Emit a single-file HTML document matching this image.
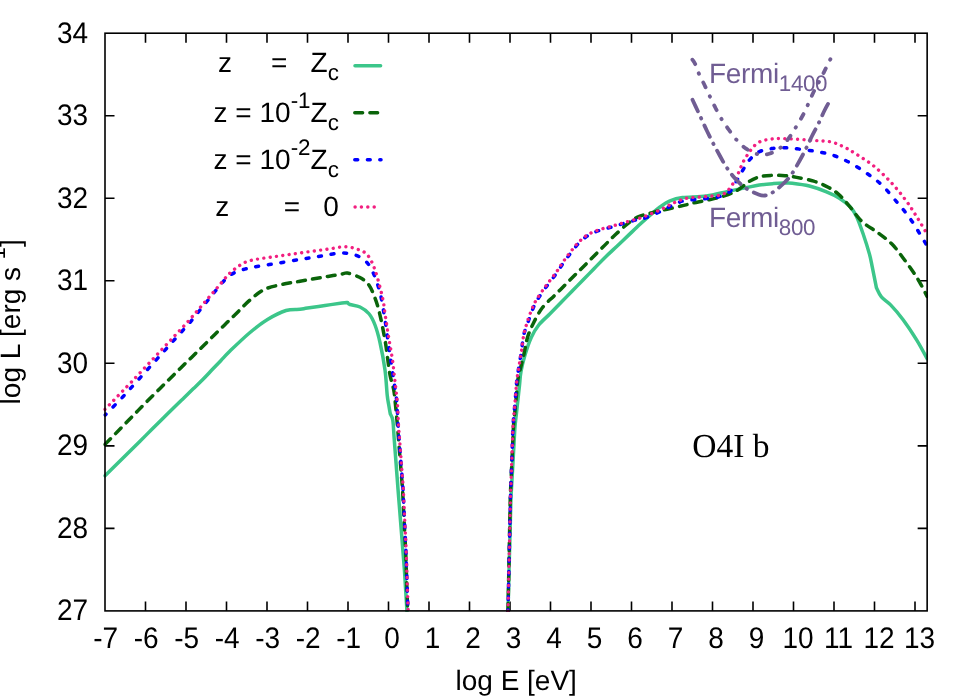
<!DOCTYPE html>
<html><head><meta charset="utf-8"><title>plot</title>
<style>
html,body{margin:0;padding:0;background:#fff;}
body{width:969px;height:700px;overflow:hidden;position:relative;font-family:"Liberation Sans",sans-serif;}
</style></head><body>
<svg width="969" height="700" viewBox="0 0 969 700" style="position:absolute;left:0;top:0;display:block;will-change:transform">
<rect x="0" y="0" width="969" height="700" fill="#ffffff"/>
<defs><clipPath id="pc"><rect x="103.20" y="33.20" width="824.85" height="578.90"/></clipPath></defs>
<path d="M145.50 610.90 V601.40 M145.50 33.20 V42.70 M186.00 610.90 V601.40 M186.00 33.20 V42.70 M226.50 610.90 V601.40 M226.50 33.20 V42.70 M267.00 610.90 V601.40 M267.00 33.20 V42.70 M307.50 610.90 V601.40 M307.50 33.20 V42.70 M348.00 610.90 V601.40 M348.00 33.20 V42.70 M388.50 610.90 V601.40 M388.50 33.20 V42.70 M429.00 610.90 V601.40 M429.00 33.20 V42.70 M469.50 610.90 V601.40 M469.50 33.20 V42.70 M510.00 610.90 V601.40 M510.00 33.20 V42.70 M550.50 610.90 V601.40 M550.50 33.20 V42.70 M591.00 610.90 V601.40 M591.00 33.20 V42.70 M631.50 610.90 V601.40 M631.50 33.20 V42.70 M672.00 610.90 V601.40 M672.00 33.20 V42.70 M712.50 610.90 V601.40 M712.50 33.20 V42.70 M753.00 610.90 V601.40 M753.00 33.20 V42.70 M793.50 610.90 V601.40 M793.50 33.20 V42.70 M834.00 610.90 V601.40 M834.00 33.20 V42.70 M874.50 610.90 V601.40 M874.50 33.20 V42.70 M915.00 610.90 V601.40 M915.00 33.20 V42.70 M105.00 528.37 H114.50 M927.15 528.37 H917.65 M105.00 445.84 H114.50 M927.15 445.84 H917.65 M105.00 363.31 H114.50 M927.15 363.31 H917.65 M105.00 280.79 H114.50 M927.15 280.79 H917.65 M105.00 198.26 H114.50 M927.15 198.26 H917.65 M105.00 115.73 H114.50 M927.15 115.73 H917.65" stroke="#000" stroke-width="1.6" fill="none"/>
<g clip-path="url(#pc)" fill="none" stroke-linejoin="round">
<path d="M105.00 475.80 C106.94 473.88 112.78 468.10 116.67 464.25 C120.56 460.40 124.44 456.55 128.33 452.70 C132.22 448.85 136.11 445.00 140.00 441.15 C143.89 437.30 147.78 433.45 151.67 429.60 C155.56 425.75 159.44 421.90 163.33 418.05 C167.22 414.20 171.54 409.90 175.00 406.50 C178.46 403.10 181.07 400.61 184.10 397.67 C187.13 394.72 190.17 391.78 193.20 388.83 C196.23 385.89 199.24 383.08 202.30 380.00 C205.36 376.92 208.46 373.56 211.53 370.33 C214.61 367.11 217.69 363.89 220.77 360.67 C223.84 357.44 225.13 355.69 230.00 351.00 C234.87 346.31 243.75 337.75 250.00 332.50 C256.25 327.25 261.50 323.17 267.50 319.50 C273.50 315.83 280.58 312.20 286.00 310.50 C291.42 308.80 296.42 309.72 300.00 309.30 C303.58 308.88 303.33 308.63 307.50 308.00 C311.67 307.37 319.25 306.33 325.00 305.50 C330.75 304.67 338.25 303.50 342.00 303.00 C345.75 302.50 346.58 302.58 347.50 302.50 M347.50 302.50 C347.92 302.83 347.92 303.75 350.00 304.50 C352.08 305.25 356.83 305.46 360.00 307.00 C363.17 308.54 366.50 310.75 369.00 313.75 C371.50 316.75 373.17 320.21 375.00 325.00 C376.83 329.79 378.33 335.00 380.00 342.50 C381.67 350.00 383.80 361.25 385.00 370.00 C386.20 378.75 386.57 389.17 387.20 395.00 C387.82 400.83 388.23 401.85 388.75 405.00 C389.27 408.15 390.04 412.42 390.30 413.90 M390.30 413.90 C390.72 414.95 392.17 416.28 392.80 420.20 C393.43 424.12 393.67 431.67 394.10 437.40 C394.53 443.13 394.97 448.87 395.40 454.60 C395.83 460.33 396.27 466.07 396.70 471.80 C397.13 477.53 397.57 483.40 398.00 489.00 C398.43 494.60 398.87 499.93 399.30 505.40 C399.73 510.87 400.17 516.33 400.60 521.80 C401.03 527.27 401.47 532.73 401.90 538.20 C402.33 543.67 402.77 549.13 403.20 554.60 C403.63 560.07 404.14 565.99 404.50 571.00 C404.86 576.01 405.06 580.11 405.33 584.67 C405.61 589.22 405.89 593.78 406.17 598.33 C406.44 602.89 406.86 609.72 407.00 612.00 M508.00 611.00 C508.07 608.17 508.29 599.67 508.43 594.00 C508.58 588.33 508.72 582.67 508.87 577.00 C509.01 571.33 509.16 565.46 509.30 560.00 C509.44 554.54 509.58 549.50 509.73 544.25 C509.87 539.00 510.01 533.75 510.15 528.50 C510.29 523.25 510.43 518.00 510.57 512.75 C510.72 507.50 510.76 502.56 511.00 497.00 C511.24 491.44 511.67 485.25 512.00 479.38 C512.33 473.50 512.67 467.62 513.00 461.75 C513.33 455.88 513.67 450.00 514.00 444.12 C514.33 438.25 514.58 431.73 515.00 426.50 C515.42 421.27 516.00 417.33 516.50 412.75 C517.00 408.17 517.50 403.58 518.00 399.00 C518.50 394.42 519.00 389.83 519.50 385.25 C520.00 380.67 520.08 376.54 521.00 371.50 C521.92 366.46 523.29 360.67 525.00 355.00 C526.71 349.33 528.96 342.50 531.25 337.50 C533.54 332.50 535.62 328.96 538.75 325.00 C541.88 321.04 546.29 317.50 550.00 313.75 C553.71 310.00 557.33 306.25 561.00 302.50 C564.67 298.75 568.33 295.00 572.00 291.25 C575.67 287.50 579.33 283.75 583.00 280.00 C586.67 276.25 590.33 272.50 594.00 268.75 C597.67 265.00 601.22 261.22 605.00 257.50 C608.78 253.78 612.78 250.12 616.67 246.43 C620.56 242.74 624.44 239.06 628.33 235.37 C632.22 231.68 636.31 227.71 640.00 224.30 C643.69 220.89 647.17 217.78 650.50 214.90 C653.83 212.02 656.75 209.33 660.00 207.00 C663.25 204.67 666.25 202.47 670.00 200.90 C673.75 199.33 676.43 198.40 682.50 197.60 C688.57 196.80 698.83 197.13 706.40 196.10 C713.97 195.07 721.47 192.77 727.90 191.40 C734.33 190.03 739.77 188.97 745.00 187.90 C750.23 186.83 754.53 185.72 759.30 185.00 C764.07 184.28 769.32 183.92 773.60 183.60 C777.88 183.28 781.88 183.17 785.00 183.10 C788.12 183.03 788.23 182.72 792.30 183.20 C796.37 183.68 803.70 184.57 809.40 186.00 C815.10 187.43 821.50 189.77 826.50 191.80 C831.50 193.83 835.47 195.70 839.40 198.20 C843.33 200.70 847.25 203.77 850.10 206.80 C852.95 209.83 854.35 211.95 856.50 216.40 C858.65 220.85 860.85 227.25 863.00 233.50 C865.15 239.75 867.85 248.30 869.40 253.90 C870.95 259.50 871.13 261.47 872.30 267.10 C873.47 272.73 875.72 284.27 876.40 287.70 M876.40 287.70 C877.23 289.23 879.03 294.03 881.40 296.90 C883.77 299.77 886.98 301.10 890.60 304.90 C894.22 308.70 898.72 313.80 903.10 319.70 C907.48 325.60 912.90 333.82 916.90 340.30 C920.90 346.78 925.40 355.55 927.10 358.60" stroke="#3cc68a" stroke-width="3.5" stroke-linecap="round"/>
<path d="M105.00 444.40 C106.67 442.70 111.67 437.58 115.00 434.17 C118.33 430.77 121.67 427.36 125.00 423.95 C128.33 420.54 131.67 417.13 135.00 413.73 C138.33 410.32 141.38 407.16 145.00 403.50 C148.62 399.84 152.83 395.67 156.75 391.75 C160.67 387.83 164.60 383.86 168.50 380.00 C172.40 376.14 176.26 372.38 180.14 368.57 C184.02 364.76 187.90 360.95 191.79 357.14 C195.67 353.33 199.55 349.52 203.43 345.71 C207.31 341.90 211.19 338.10 215.07 334.29 C218.95 330.48 222.83 326.67 226.71 322.86 C230.60 319.05 234.48 315.24 238.36 311.43 C242.24 307.62 245.56 303.70 250.00 300.00 C254.44 296.30 259.17 291.90 265.00 289.20 C270.83 286.50 279.17 285.12 285.00 283.80 C290.83 282.48 295.17 282.08 300.00 281.25 C304.83 280.42 309.33 279.64 314.00 278.83 C318.67 278.03 323.33 277.22 328.00 276.42 C332.67 275.61 338.75 274.57 342.00 274.00 C345.25 273.43 344.60 272.45 347.50 273.00 C350.40 273.55 355.95 275.47 359.40 277.30 C362.85 279.13 365.73 280.88 368.20 284.00 C370.67 287.12 372.33 291.25 374.20 296.00 C376.07 300.75 377.60 305.17 379.40 312.50 C381.20 319.83 383.65 332.50 385.00 340.00 C386.35 347.50 386.67 351.67 387.50 357.50 C388.33 363.33 388.96 369.58 390.00 375.00 C391.04 380.42 392.83 385.00 393.75 390.00 C394.67 395.00 394.88 398.92 395.50 405.00 C396.12 411.08 396.96 420.31 397.50 426.50 C398.04 432.69 398.33 436.92 398.75 442.12 C399.17 447.33 399.58 452.54 400.00 457.75 C400.42 462.96 400.83 468.17 401.25 473.38 C401.67 478.58 402.16 483.77 402.50 489.00 C402.84 494.23 403.03 499.50 403.30 504.75 C403.57 510.00 403.83 515.25 404.10 520.50 C404.37 525.75 404.63 531.00 404.90 536.25 C405.17 541.50 405.48 546.88 405.70 552.00 C405.92 557.12 406.03 562.00 406.20 567.00 C406.37 572.00 406.53 577.00 406.70 582.00 C406.87 587.00 407.03 592.00 407.20 597.00 C407.37 602.00 407.62 609.50 407.70 612.00 M508.00 611.00 C508.05 608.29 508.22 600.14 508.33 594.71 C508.44 589.29 508.55 583.86 508.66 578.43 C508.77 573.00 508.88 567.57 508.99 562.14 C509.10 556.71 509.20 551.29 509.31 545.86 C509.42 540.43 509.53 535.00 509.64 529.57 C509.75 524.14 509.86 518.71 509.97 513.29 C510.08 507.86 510.11 502.67 510.30 497.00 C510.49 491.33 510.83 485.17 511.10 479.25 C511.37 473.33 511.63 467.42 511.90 461.50 C512.17 455.58 512.43 449.67 512.70 443.75 C512.97 437.83 513.12 431.57 513.50 426.00 C513.88 420.43 514.50 415.56 515.00 410.33 C515.50 405.11 516.00 399.89 516.50 394.67 C517.00 389.44 516.79 385.61 518.00 379.00 C519.21 372.39 522.17 361.92 523.75 355.00 C525.33 348.08 525.83 342.92 527.50 337.50 C529.17 332.08 531.25 327.50 533.75 322.50 C536.25 317.50 539.03 312.01 542.50 307.50 C545.97 302.99 550.56 299.44 554.58 295.42 C558.61 291.39 562.64 287.36 566.67 283.33 C570.69 279.31 574.72 275.28 578.75 271.25 C582.78 267.22 586.81 263.19 590.83 259.17 C594.86 255.14 598.89 251.11 602.92 247.08 C606.94 243.06 610.49 239.21 615.00 235.00 C619.51 230.79 625.83 224.93 630.00 221.80 C634.17 218.67 636.50 217.67 640.00 216.20 C643.50 214.73 647.67 213.97 651.00 213.00 C654.33 212.03 657.33 211.02 660.00 210.40 C662.67 209.78 663.50 210.03 667.00 209.30 C670.50 208.57 677.50 206.82 681.00 206.00 C684.50 205.18 685.90 204.92 688.00 204.40 C690.10 203.88 690.05 203.68 693.60 202.90 C697.15 202.12 704.07 200.90 709.30 199.70 C714.53 198.50 720.23 197.32 725.00 195.70 C729.77 194.08 733.85 192.38 737.90 190.00 C741.95 187.62 745.73 183.58 749.30 181.40 C752.87 179.22 755.73 177.90 759.30 176.90 C762.87 175.90 766.42 175.60 770.70 175.40 C774.98 175.20 780.68 175.37 785.00 175.70 C789.32 176.03 791.82 176.50 796.60 177.40 C801.38 178.30 808.35 179.42 813.70 181.10 C819.05 182.78 824.42 185.18 828.70 187.50 C832.98 189.82 835.83 191.75 839.40 195.00 C842.97 198.25 846.33 202.57 850.10 207.00 C853.87 211.43 857.35 217.30 862.00 221.60 C866.65 225.90 873.05 229.10 878.00 232.80 C882.95 236.50 887.52 239.60 891.70 243.80 C895.88 248.00 899.28 252.97 903.10 258.00 C906.92 263.03 911.55 269.43 914.60 274.00 C917.65 278.57 919.32 281.67 921.40 285.40 C923.48 289.13 926.15 294.57 927.10 296.40" stroke="#0a640a" stroke-width="3.5" stroke-linecap="round" stroke-dasharray="7.8 7.3"/>
<path d="M105.20 415.00 C108.23 411.88 118.54 401.44 123.40 396.30 C128.26 391.16 130.70 388.20 134.35 384.15 C138.00 380.10 141.65 376.05 145.30 372.00 C148.95 367.95 152.60 363.90 156.25 359.85 C159.90 355.80 163.55 351.75 167.20 347.70 C170.85 343.65 174.50 339.60 178.15 335.55 C181.80 331.50 185.49 327.62 189.10 323.40 C192.71 319.18 196.23 314.62 199.80 310.23 C203.37 305.84 206.93 301.46 210.50 297.07 C214.07 292.68 217.90 287.56 221.20 283.90 C224.50 280.24 226.88 277.42 230.30 275.10 C233.72 272.78 237.77 271.33 241.70 270.00 C245.63 268.67 249.31 268.01 253.90 267.10 C258.49 266.19 264.14 265.41 269.27 264.57 C274.39 263.72 279.51 262.88 284.63 262.03 C289.76 261.19 295.22 260.28 300.00 259.50 C304.78 258.72 308.89 258.06 313.33 257.33 C317.78 256.61 322.22 255.89 326.67 255.17 C331.11 254.44 335.69 253.15 340.00 253.00 C344.31 252.85 348.62 253.20 352.50 254.25 C356.38 255.30 360.12 256.78 363.30 259.30 C366.48 261.82 368.82 263.87 371.60 269.40 C374.38 274.93 377.77 284.07 380.00 292.50 C382.23 300.93 383.75 312.50 385.00 320.00 C386.25 327.50 386.67 331.67 387.50 337.50 C388.33 343.33 389.25 349.86 390.00 355.00 C390.75 360.14 391.33 363.89 392.00 368.33 C392.67 372.78 393.33 377.22 394.00 381.67 C394.67 386.11 395.50 391.11 396.00 395.00 C396.50 398.89 396.63 399.75 397.00 405.00 C397.37 410.25 397.80 420.31 398.20 426.50 C398.60 432.69 399.00 436.92 399.40 442.12 C399.80 447.33 400.20 452.54 400.60 457.75 C401.00 462.96 401.40 468.17 401.80 473.38 C402.20 478.58 402.68 483.77 403.00 489.00 C403.32 494.23 403.50 499.50 403.75 504.75 C404.00 510.00 404.25 515.25 404.50 520.50 C404.75 525.75 405.00 531.00 405.25 536.25 C405.50 541.50 405.79 546.88 406.00 552.00 C406.21 557.12 406.33 562.00 406.50 567.00 C406.67 572.00 406.83 577.00 407.00 582.00 C407.17 587.00 407.33 592.00 407.50 597.00 C407.67 602.00 407.92 609.50 408.00 612.00 M508.00 611.00 C508.06 608.29 508.24 600.14 508.36 594.71 C508.48 589.29 508.60 583.86 508.71 578.43 C508.83 573.00 508.95 567.57 509.07 562.14 C509.19 556.71 509.31 551.29 509.43 545.86 C509.55 540.43 509.67 535.00 509.79 529.57 C509.90 524.14 510.02 518.71 510.14 513.29 C510.26 507.86 510.34 502.67 510.50 497.00 C510.66 491.33 510.92 485.17 511.12 479.25 C511.33 473.33 511.54 467.42 511.75 461.50 C511.96 455.58 512.17 449.67 512.38 443.75 C512.58 437.83 512.67 431.57 513.00 426.00 C513.33 420.43 513.89 415.56 514.33 410.33 C514.78 405.11 515.22 399.89 515.67 394.67 C516.11 389.44 516.07 386.03 517.00 379.00 C517.93 371.97 520.12 359.83 521.25 352.50 C522.38 345.17 522.61 340.11 523.75 335.00 C524.89 329.89 526.59 326.18 528.10 321.85 C529.61 317.52 531.32 312.57 532.80 309.00 C534.28 305.43 535.15 303.55 537.00 300.40 C538.85 297.25 541.90 292.97 543.90 290.10 C545.90 287.23 546.85 286.07 549.00 283.20 C551.15 280.33 554.37 276.33 556.80 272.90 C559.23 269.47 561.18 266.03 563.60 262.60 C566.02 259.17 568.72 255.58 571.30 252.30 C573.88 249.02 576.23 245.75 579.10 242.90 C581.97 240.05 585.08 237.28 588.50 235.20 C591.92 233.12 595.73 231.77 599.60 230.40 C603.47 229.03 607.68 228.15 611.70 227.00 C615.72 225.85 619.70 224.65 623.70 223.50 C627.70 222.35 632.52 220.88 635.70 220.10 C638.88 219.32 638.75 220.20 642.80 218.80 C646.85 217.40 655.30 213.85 660.00 211.70 C664.70 209.55 668.08 207.35 671.00 205.90 C673.92 204.45 675.45 203.83 677.50 203.00 C679.55 202.17 680.62 201.45 683.30 200.90 C685.98 200.35 689.75 200.08 693.60 199.70 C697.45 199.32 702.23 199.07 706.40 198.60 C710.57 198.13 714.67 198.10 718.60 196.90 C722.53 195.70 726.92 194.22 730.00 191.40 C733.08 188.58 734.95 183.57 737.10 180.00 C739.25 176.43 740.75 173.45 742.90 170.00 C745.05 166.55 747.27 162.35 750.00 159.30 C752.73 156.25 755.73 153.48 759.30 151.70 C762.87 149.92 766.98 149.25 771.40 148.60 C775.82 147.95 780.53 147.63 785.80 147.80 C791.07 147.97 797.28 148.88 803.00 149.60 C808.72 150.32 814.75 151.03 820.10 152.10 C825.45 153.17 830.10 154.22 835.10 156.00 C840.10 157.78 844.75 159.87 850.10 162.80 C855.45 165.73 861.85 169.85 867.20 173.60 C872.55 177.35 877.20 180.48 882.20 185.30 C887.20 190.12 892.55 196.97 897.20 202.50 C901.85 208.03 905.82 212.43 910.10 218.50 C914.38 224.57 920.07 234.32 922.90 238.90 C925.73 243.48 926.40 244.82 927.10 246.00" stroke="#0000ff" stroke-width="3.5" stroke-linecap="round" stroke-dasharray="2.9 9.82" stroke-dashoffset="1.45"/>
<path d="M104.90 409.40 C106.39 407.86 110.86 403.24 113.83 400.17 C116.81 397.09 119.79 394.01 122.77 390.93 C125.74 387.86 128.34 385.24 131.70 381.70 C135.06 378.16 139.19 373.70 142.94 369.70 C146.69 365.70 150.43 361.70 154.18 357.70 C157.93 353.70 161.67 349.70 165.42 345.70 C169.17 341.70 172.91 337.70 176.66 333.70 C180.41 329.70 184.29 325.71 187.90 321.70 C191.51 317.69 194.85 313.65 198.32 309.62 C201.80 305.60 205.28 301.57 208.75 297.55 C212.22 293.52 215.70 289.50 219.18 285.47 C222.65 281.45 226.18 276.75 229.60 273.40 C233.02 270.05 237.12 267.25 239.70 265.40 C242.28 263.55 243.17 263.15 245.10 262.30 C247.03 261.45 249.25 260.83 251.30 260.30 C253.35 259.77 254.02 259.64 257.40 259.10 C260.78 258.56 266.87 257.74 271.60 257.07 C276.33 256.39 281.07 255.71 285.80 255.03 C290.53 254.36 295.13 253.69 300.00 253.00 C304.87 252.31 310.00 251.61 315.00 250.92 C320.00 250.22 325.00 249.53 330.00 248.83 C335.00 248.14 340.42 246.68 345.00 246.75 C349.58 246.82 353.75 247.88 357.50 249.25 C361.25 250.62 364.58 251.54 367.50 255.00 C370.42 258.46 372.50 262.92 375.00 270.00 C377.50 277.08 380.83 290.21 382.50 297.50 C384.17 304.79 384.17 308.33 385.00 313.75 C385.83 319.17 386.67 324.79 387.50 330.00 C388.33 335.21 389.17 340.00 390.00 345.00 C390.83 350.00 391.79 355.00 392.50 360.00 C393.21 365.00 393.67 370.00 394.25 375.00 C394.83 380.00 395.46 385.00 396.00 390.00 C396.54 395.00 397.07 398.92 397.50 405.00 C397.93 411.08 398.22 420.31 398.60 426.50 C398.98 432.69 399.38 436.92 399.78 442.12 C400.17 447.33 400.56 452.54 400.95 457.75 C401.34 462.96 401.73 468.17 402.12 473.38 C402.52 478.58 402.98 483.77 403.30 489.00 C403.62 494.23 403.78 499.50 404.02 504.75 C404.27 510.00 404.51 515.25 404.75 520.50 C404.99 525.75 405.23 531.00 405.48 536.25 C405.72 541.50 406.00 546.88 406.20 552.00 C406.40 557.12 406.53 562.00 406.70 567.00 C406.87 572.00 407.03 577.00 407.20 582.00 C407.37 587.00 407.53 592.00 407.70 597.00 C407.87 602.00 408.12 609.50 408.20 612.00 M508.00 611.00 C508.06 608.29 508.24 600.14 508.36 594.71 C508.48 589.29 508.60 583.86 508.71 578.43 C508.83 573.00 508.95 567.57 509.07 562.14 C509.19 556.71 509.31 551.29 509.43 545.86 C509.55 540.43 509.67 535.00 509.79 529.57 C509.90 524.14 510.02 518.71 510.14 513.29 C510.26 507.86 510.34 502.67 510.50 497.00 C510.66 491.33 510.92 485.17 511.12 479.25 C511.33 473.33 511.54 467.42 511.75 461.50 C511.96 455.58 512.17 449.67 512.38 443.75 C512.58 437.83 512.67 431.57 513.00 426.00 C513.33 420.43 513.89 415.56 514.33 410.33 C514.78 405.11 515.22 399.89 515.67 394.67 C516.11 389.44 516.07 386.03 517.00 379.00 C517.93 371.97 520.12 359.83 521.25 352.50 C522.38 345.17 522.71 340.21 523.75 335.00 C524.79 329.79 526.09 325.68 527.50 321.25 C528.91 316.82 530.72 311.97 532.20 308.40 C533.68 304.82 534.55 302.95 536.40 299.80 C538.25 296.65 541.30 292.37 543.30 289.50 C545.30 286.63 546.25 285.47 548.40 282.60 C550.55 279.73 553.77 275.73 556.20 272.30 C558.63 268.87 560.58 265.43 563.00 262.00 C565.42 258.57 568.12 254.98 570.70 251.70 C573.28 248.42 575.63 245.15 578.50 242.30 C581.37 239.45 584.48 236.68 587.90 234.60 C591.32 232.52 595.13 231.17 599.00 229.80 C602.87 228.43 607.08 227.55 611.10 226.40 C615.12 225.25 619.10 224.05 623.10 222.90 C627.10 221.75 631.82 220.47 635.10 219.50 C638.38 218.53 638.65 218.68 642.80 217.10 C646.95 215.52 655.30 212.15 660.00 210.00 C664.70 207.85 668.08 205.65 671.00 204.20 C673.92 202.75 675.45 202.13 677.50 201.30 C679.55 200.47 681.33 199.82 683.30 199.20 C685.27 198.58 687.23 197.92 689.30 197.60 C691.37 197.28 693.57 197.43 695.70 197.30 C697.83 197.17 699.95 196.97 702.10 196.80 C704.25 196.63 706.45 196.48 708.60 196.30 C710.75 196.12 712.87 195.92 715.00 195.70 C717.13 195.48 719.50 195.63 721.40 195.00 C723.30 194.37 724.85 193.22 726.40 191.90 C727.95 190.58 729.38 188.85 730.70 187.10 C732.02 185.35 733.23 183.25 734.30 181.40 C735.37 179.55 736.20 177.90 737.10 176.00 C738.00 174.10 738.87 171.95 739.70 170.00 C740.53 168.05 741.22 166.20 742.10 164.30 C742.98 162.40 743.92 160.43 745.00 158.60 C746.08 156.77 747.42 155.02 748.60 153.30 C749.78 151.58 750.80 149.85 752.10 148.30 C753.40 146.75 754.73 145.27 756.40 144.00 C758.07 142.73 760.12 141.43 762.10 140.70 C764.08 139.97 766.20 139.95 768.30 139.60 C770.40 139.25 772.58 138.77 774.70 138.60 C776.82 138.43 778.07 138.55 781.00 138.60 C783.93 138.65 786.85 138.60 792.30 138.90 C797.75 139.20 807.28 139.90 813.70 140.40 C820.12 140.90 825.80 140.83 830.80 141.90 C835.80 142.97 839.42 144.73 843.70 146.80 C847.98 148.87 851.50 151.10 856.50 154.30 C861.50 157.50 867.98 161.37 873.70 166.00 C879.42 170.63 885.45 176.38 890.80 182.10 C896.15 187.82 901.52 194.58 905.80 200.30 C910.08 206.02 913.10 211.03 916.50 216.40 C919.90 221.77 924.58 229.82 926.20 232.50" stroke="#f21f80" stroke-width="3.4" stroke-linecap="round" stroke-dasharray="0.01 6.36"/>
<path d="M692.50 99.70 C693.42 101.67 696.58 108.45 698.00 111.50 C699.42 114.55 699.50 114.75 701.00 118.00 C702.50 121.25 704.95 126.73 707.00 131.00 C709.05 135.27 711.13 139.43 713.30 143.60 C715.47 147.77 717.72 151.93 720.00 156.00 C722.28 160.07 724.42 164.17 727.00 168.00 C729.58 171.83 732.33 175.62 735.50 179.00 C738.67 182.38 742.17 185.72 746.00 188.30 C749.83 190.88 755.33 193.30 758.50 194.50 C761.67 195.70 762.73 195.78 765.00 195.50 C767.27 195.22 769.10 194.72 772.10 192.80 C775.10 190.88 779.72 187.13 783.00 184.00 C786.28 180.87 788.97 178.00 791.80 174.00 C794.63 170.00 797.63 164.23 800.00 160.00 C802.37 155.77 804.00 152.60 806.00 148.60 C808.00 144.60 809.92 140.18 812.00 136.00 C814.08 131.82 816.42 127.75 818.50 123.50 C820.58 119.25 822.42 114.65 824.50 110.50 C826.58 106.35 829.92 100.58 831.00 98.60" stroke="#705d93" stroke-width="3.8" stroke-linecap="round" stroke-dasharray="12.7 7.55 0.5 7.55"/>
<path d="M692.40 59.70 C692.88 60.47 694.22 61.97 695.30 64.30 C696.38 66.63 697.37 70.25 698.90 73.70 C700.43 77.15 702.63 81.13 704.50 85.00 C706.37 88.87 708.27 93.07 710.10 96.90 C711.93 100.73 713.55 104.23 715.50 108.00 C717.45 111.77 719.55 115.83 721.80 119.50 C724.05 123.17 726.52 126.58 729.00 130.00 C731.48 133.42 733.87 136.90 736.70 140.00 C739.53 143.10 742.47 146.22 746.00 148.60 C749.53 150.98 753.90 153.48 757.90 154.30 C761.90 155.12 766.12 154.72 770.00 153.50 C773.88 152.28 777.87 149.83 781.20 147.00 C784.53 144.17 787.48 139.92 790.00 136.50 C792.52 133.08 794.13 130.08 796.30 126.50 C798.47 122.92 801.02 118.73 803.00 115.00 C804.98 111.27 806.43 107.93 808.20 104.10 C809.97 100.27 811.70 95.88 813.60 92.00 C815.50 88.12 817.53 84.80 819.60 80.80 C821.67 76.80 824.10 71.80 826.00 68.00 C827.90 64.20 830.17 59.67 831.00 58.00" stroke="#705d93" stroke-width="3.8" stroke-linecap="round" stroke-dasharray="5.3 9.8 0.5 9.8"/>
</g>
<rect x="105.00" y="33.20" width="822.15" height="577.70" fill="none" stroke="#000" stroke-width="1.6"/>
<path d="M355 65.7 H380.6" stroke="#3cc68a" stroke-width="3.5" stroke-linecap="round" fill="none"/>
<path d="M354.8 112.7 H362.6 M369.9 112.7 H377.6" stroke="#0a640a" stroke-width="3.5" stroke-linecap="round" fill="none"/>
<path d="M354.8 159.7 H357.7 M367.4 159.7 H370.2 M379.8 159.7 H381" stroke="#0000ff" stroke-width="3.5" stroke-linecap="round" fill="none"/>
<path d="M355.1 206.9 h0.01 M361.4 206.9 h0.01 M367.8 206.9 h0.01 M374.2 206.9 h0.01" stroke="#f21f80" stroke-width="3.5" stroke-linecap="round" fill="none"/>
<g font-family="'Liberation Sans', sans-serif" font-size="28" fill="#000" text-rendering="geometricPrecision">
<text transform="translate(88.20,620.30) scale(1,1.063)" text-anchor="end">27</text>
<text transform="translate(88.20,537.77) scale(1,1.063)" text-anchor="end">28</text>
<text transform="translate(88.20,455.24) scale(1,1.063)" text-anchor="end">29</text>
<text transform="translate(88.20,372.71) scale(1,1.063)" text-anchor="end">30</text>
<text transform="translate(88.20,290.19) scale(1,1.063)" text-anchor="end">31</text>
<text transform="translate(88.20,207.66) scale(1,1.063)" text-anchor="end">32</text>
<text transform="translate(88.20,125.13) scale(1,1.063)" text-anchor="end">33</text>
<text transform="translate(88.20,42.60) scale(1,1.063)" text-anchor="end">34</text>
<text transform="translate(105.60,648.40) scale(1,1.063)" text-anchor="middle">-7</text>
<text transform="translate(146.10,648.40) scale(1,1.063)" text-anchor="middle">-6</text>
<text transform="translate(186.60,648.40) scale(1,1.063)" text-anchor="middle">-5</text>
<text transform="translate(227.10,648.40) scale(1,1.063)" text-anchor="middle">-4</text>
<text transform="translate(267.60,648.40) scale(1,1.063)" text-anchor="middle">-3</text>
<text transform="translate(308.10,648.40) scale(1,1.063)" text-anchor="middle">-2</text>
<text transform="translate(348.60,648.40) scale(1,1.063)" text-anchor="middle">-1</text>
<text transform="translate(392.00,648.40) scale(1,1.063)" text-anchor="middle">0</text>
<text transform="translate(432.50,648.40) scale(1,1.063)" text-anchor="middle">1</text>
<text transform="translate(473.00,648.40) scale(1,1.063)" text-anchor="middle">2</text>
<text transform="translate(513.50,648.40) scale(1,1.063)" text-anchor="middle">3</text>
<text transform="translate(554.00,648.40) scale(1,1.063)" text-anchor="middle">4</text>
<text transform="translate(594.50,648.40) scale(1,1.063)" text-anchor="middle">5</text>
<text transform="translate(635.00,648.40) scale(1,1.063)" text-anchor="middle">6</text>
<text transform="translate(675.50,648.40) scale(1,1.063)" text-anchor="middle">7</text>
<text transform="translate(716.00,648.40) scale(1,1.063)" text-anchor="middle">8</text>
<text transform="translate(756.50,648.40) scale(1,1.063)" text-anchor="middle">9</text>
<text transform="translate(798.00,648.40) scale(1,1.063)" text-anchor="middle">10</text>
<text transform="translate(838.50,648.40) scale(1,1.063)" text-anchor="middle">11</text>
<text transform="translate(879.00,648.40) scale(1,1.063)" text-anchor="middle">12</text>
<text transform="translate(919.50,648.40) scale(1,1.063)" text-anchor="middle">13</text>
<text x="516.2" y="689.5" text-anchor="middle">log E [eV]</text>
<text transform="translate(19.8,321.8) rotate(-90)" text-anchor="middle">log L [erg s<tspan font-size="22.4" dy="-15">-1</tspan><tspan dy="15">]</tspan></text>
<text x="692.3" y="457.2" font-family="'Liberation Serif', serif" font-size="33.5">O4I b</text>
<text x="709" y="82.9" fill="#705d93" letter-spacing="-0.35">Fermi<tspan font-size="22.4" dy="8.3">1400</tspan></text>
<text x="709" y="227.1" fill="#705d93" letter-spacing="-0.35">Fermi<tspan font-size="22.4" dy="8.3">800</tspan></text>
<text x="338.9" y="71.5" text-anchor="end" xml:space="preserve" style="white-space:pre">z     =   Z<tspan font-size="22.4" dy="8.7">c</tspan></text>
<text x="338.9" y="121.6" text-anchor="end" xml:space="preserve" style="white-space:pre">z = 10<tspan font-size="22.4" dy="-14">-1</tspan><tspan dy="14">Z</tspan><tspan font-size="22.4" dy="8.7">c</tspan></text>
<text x="338.9" y="168.7" text-anchor="end" xml:space="preserve" style="white-space:pre">z = 10<tspan font-size="22.4" dy="-14">-2</tspan><tspan dy="14">Z</tspan><tspan font-size="22.4" dy="8.7">c</tspan></text>
<text x="338.9" y="215.5" text-anchor="end" xml:space="preserve" style="white-space:pre">z       =   0</text>
</g>
</svg>
</body></html>
